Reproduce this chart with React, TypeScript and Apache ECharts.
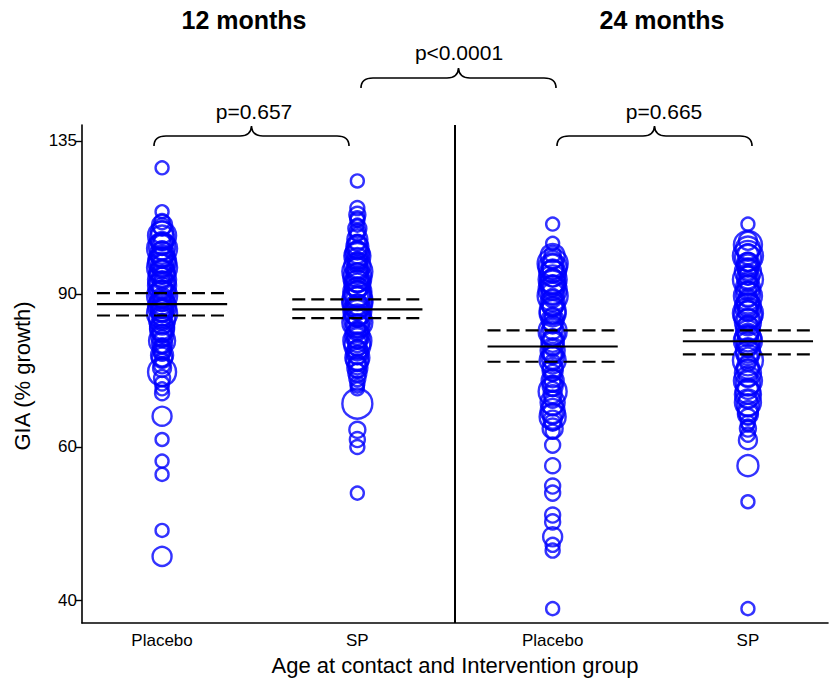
import React, { useEffect, useRef } from "react";
import * as echarts from "echarts";

// Group layout along the horizontal axis
const groupLabels = ["Placebo", "SP", "Placebo", "SP"];
const groupPositions = [1, 2, 3, 4];
const panelTitles = ["12 months", "24 months"];
const pLabels = ["p=0.657", "p<0.0001", "p=0.665"];

// Log-scaled GIA axis: ticks grow by a factor of 1.5
const yTickValues = [40, 60, 90, 135];
const yBase = 40;
const yRatio = 1.5;
const yAxisMin = 37.64;
const yAxisMax = 140.8;

// 12 months, Placebo
const placebo12Values = [125.7, 111.9, 109, 107.5, 106, 104.5, 103, 102, 101, 100, 99, 98, 97, 96, 95, 94, 93, 92.5, 92, 91, 90.5, 90, 89, 88.5, 88, 87, 86.5, 86, 85, 84, 83.5, 83, 82, 81, 80.5, 80, 79, 78.5, 78, 77, 76, 75.5, 74.5, 73.2, 72, 71, 70, 69.2, 65.1, 61.2, 57.8, 55.8, 48.1, 44.9,
  108, 105, 103.5, 101.5, 99.5, 97.5, 96.5, 95.5, 94.5, 93.5, 91.5, 89.5, 88.2, 87.5, 86.2, 85.5, 84.5, 82.5, 81.5, 79.5, 77.5, 76.5, 74, 102.5, 98.5];
const placebo12Sizes = [13, 13, 15, 17, 22, 24, 22, 26, 18, 24, 20, 28, 22, 18, 26, 20, 16, 24, 28, 18, 22, 26, 20, 16, 24, 28, 18, 22, 20, 26, 16, 20, 24, 18, 22, 16, 20, 14, 18, 16, 20, 14, 16, 28, 16, 14, 13, 14, 19, 13, 13, 13, 13, 19,
  20, 28, 16, 30, 22, 18, 30, 24, 16, 28, 20, 30, 18, 26, 22, 30, 18, 24, 20, 26, 18, 22, 18, 20, 26];

// 12 months, SP
const sp12Values = [121.4, 113, 111, 109.5, 108, 107, 105.5, 104, 103, 102, 101, 100, 99, 98, 97, 96, 95, 94, 93, 92, 91, 90.5, 90, 89, 88, 87.5, 87, 86, 85, 84.5, 84, 83, 82.5, 82, 81, 80, 79, 78.5, 78, 77, 76.5, 76, 75, 74, 73.5, 73, 72, 71, 70.5, 70, 67.3, 62.8, 61.2, 60.0, 53.1,
  110, 106, 102.5, 99.5, 97.5, 95.5, 93.5, 91.5, 89.5, 88.5, 86.5, 85.5, 83.5, 81.5, 80.5, 79.5, 77.5, 75.5, 74.5, 96.5, 92.5, 100.5];
const sp12Sizes = [13, 14, 16, 14, 13, 18, 14, 20, 16, 22, 18, 24, 20, 18, 26, 22, 20, 28, 22, 24, 18, 28, 26, 22, 30, 20, 24, 28, 22, 18, 26, 20, 24, 16, 22, 20, 18, 26, 16, 22, 18, 24, 16, 20, 14, 18, 16, 14, 13, 13, 30, 16, 15, 14, 13,
  14, 16, 20, 26, 18, 30, 24, 20, 28, 30, 22, 26, 30, 18, 24, 28, 20, 22, 18, 20, 26, 22];

// 24 months, Placebo
const placebo24Values = [108.3, 102.9, 100, 98.5, 97, 96, 95, 94, 93, 92, 91, 90, 89, 88, 87, 86, 85, 84, 83, 82, 81, 80, 79, 78, 77, 76.5, 76, 75, 74, 73, 72, 71, 70.5, 70, 69, 68, 67, 66, 65, 64.5, 64, 63, 62.5, 60.3, 57.1, 54.1, 53.1, 50.1, 49.2, 47.3, 46.3, 45.6, 39.1,
  99.5, 97.5, 95.5, 93.5, 91.5, 89.5, 87.5, 85.5, 83.5, 81.5, 79.5, 77.5, 75.5, 73.5, 71.5, 69.5, 67.5, 65.5, 92.5, 96.5];
const placebo24Sizes = [13, 13, 16, 18, 22, 20, 26, 18, 24, 20, 28, 22, 18, 24, 20, 26, 16, 22, 18, 20, 24, 18, 22, 16, 20, 18, 22, 16, 20, 16, 18, 16, 20, 14, 18, 16, 20, 24, 26, 18, 16, 20, 14, 15, 15, 15, 15, 15, 15, 19, 14, 14, 13,
  24, 30, 22, 28, 24, 30, 22, 26, 20, 28, 22, 24, 26, 20, 22, 28, 24, 20, 26, 28];

// 24 months, SP
const sp24Values = [108.3, 103.6, 101.5, 100, 99, 98, 97, 96, 95, 94, 93, 92, 91, 90, 89, 88, 87, 86, 85, 84, 83, 82, 81, 80, 79, 78, 77, 76, 75, 74, 73, 72, 71, 70, 69, 68, 67, 66, 65, 64, 63.5, 63, 62, 61.1, 57.1, 51.9, 39.1,
  102.5, 99.5, 97.5, 95.5, 93.5, 91.5, 89.5, 87.5, 85.5, 83.5, 81.5, 79.5, 77.5, 75.5, 73.5, 71.5, 69.5, 67.5, 65.5, 86.5, 80.5, 94.5];
const sp24Sizes = [13, 18, 24, 20, 26, 18, 22, 20, 16, 22, 18, 20, 16, 24, 18, 22, 26, 20, 28, 22, 18, 24, 20, 26, 22, 18, 24, 20, 16, 22, 26, 18, 24, 20, 26, 18, 22, 20, 16, 14, 12, 16, 14, 18, 21, 13, 13,
  28, 30, 22, 26, 30, 24, 28, 22, 30, 26, 22, 28, 24, 30, 22, 28, 24, 26, 20, 18, 20, 18];

// Geometric means with 95% confidence limits
const meanValues = [87.6, 86.4, 78.3, 79.4];
const ciLower = [85.0, 84.4, 75.2, 76.7];
const ciUpper = [90.2, 88.7, 81.7, 81.7];

const groupValues = [placebo12Values, sp12Values, placebo24Values, sp24Values];
const groupSizes = [placebo12Sizes, sp12Sizes, placebo24Sizes, sp24Sizes];

const FONT = '"Liberation Sans", Arial, sans-serif';
const BLUE = "#0000ff";

const toAxis = (v: number) => Math.log(v / yBase) / Math.log(yRatio);
const tickPositions = yTickValues.map(toAxis);

// Curly brace opening downward, 195 x 20
const braceD =
  "M0 20 Q0 10 12 10 L86 10 Q97 10 97.5 0 Q98 10 109 10 L183 10 Q195 10 195 20";
echarts.graphic.registerShape("brace", echarts.graphic.extendPath(braceD, {}) as any);

function buildOption() {
  const series: any[] = [];

  groupValues.forEach((vals, gi) => {
    series.push({
      type: "scatter",
      silent: true,
      symbol: "circle",
      data: vals.map((v, i) => [groupPositions[gi], toAxis(v), groupSizes[gi][i]]),
      symbolSize: (d: number[]) => d[2],
      itemStyle: { color: "rgba(0,0,0,0)", borderColor: BLUE, borderWidth: 2.4 },
      z: 2,
    });
  });

  const half = 1 / 3;
  groupPositions.forEach((p, gi) => {
    const lines = [
      { v: meanValues[gi], type: "solid" as any },
      { v: ciLower[gi], type: [13, 6] as any },
      { v: ciUpper[gi], type: [13, 6] as any },
    ];
    lines.forEach((l) => {
      series.push({
        type: "line",
        silent: true,
        symbol: "none",
        data: [
          [p - half, toAxis(l.v)],
          [p + half, toAxis(l.v)],
        ],
        lineStyle: { color: "#000", width: 2.2, type: l.type },
        z: 3,
      });
    });
  });

  // Divider between the two ages
  series.push({
    type: "line",
    silent: true,
    symbol: "none",
    data: [
      [2.5, toAxis(yAxisMin)],
      [2.5, toAxis(yAxisMax)],
    ],
    lineStyle: { color: "#000", width: 2 },
    z: 3,
  });

  const braceStyle = { stroke: "#000", fill: "none", lineWidth: 1.6 };
  const textStyle = (size: number, bold = false) => ({
    fontFamily: FONT,
    fontSize: size,
    fontWeight: bold ? "bold" : "normal",
    fill: "#000",
    align: "center",
    verticalAlign: "middle",
  });

  return {
    animation: false,
    backgroundColor: "#fff",
    textStyle: { fontFamily: FONT },
    grid: { left: 82, right: 6, top: 125, bottom: 57, containLabel: false },
    xAxis: {
      type: "value",
      min: 0.59,
      max: 4.41,
      axisLine: { show: true, onZero: false, lineStyle: { color: "#000", width: 1.6 } },
      axisTick: { show: false },
      splitLine: { show: false },
      axisLabel: {
        customValues: groupPositions,
        formatter: (v: number) => {
          const i = groupPositions.findIndex((p) => Math.abs(p - v) < 1e-6);
          return i >= 0 ? groupLabels[i] : "";
        },
        color: "#000",
        fontSize: 17,
        fontFamily: FONT,
        margin: 9,
      },
    },
    yAxis: {
      type: "value",
      min: toAxis(yAxisMin),
      max: toAxis(yAxisMax),
      axisLine: { show: true, onZero: false, lineStyle: { color: "#000", width: 1.6 } },
      axisTick: { show: true, length: 6, customValues: tickPositions, lineStyle: { color: "#000", width: 1.4 } },
      splitLine: { show: false },
      axisLabel: {
        customValues: tickPositions,
        formatter: (v: number) => {
          const i = tickPositions.findIndex((p) => Math.abs(p - v) < 1e-6);
          return i >= 0 ? String(yTickValues[i]) : "";
        },
        color: "#000",
        fontSize: 17,
        fontFamily: FONT,
        margin: 5,
      },
    },
    graphic: [
      { type: "text", x: 244, y: 20, style: { text: panelTitles[0], ...textStyle(25, true) } },
      { type: "text", x: 662, y: 20, style: { text: panelTitles[1], ...textStyle(25, true) } },
      { type: "text", x: 459, y: 52, style: { text: pLabels[1], ...textStyle(21) } },
      { type: "text", x: 254, y: 111, style: { text: pLabels[0], ...textStyle(21) } },
      { type: "text", x: 664, y: 111, style: { text: pLabels[2], ...textStyle(21) } },
      { type: "brace", x: 154, y: 126, style: braceStyle },
      { type: "brace", x: 361, y: 68, style: braceStyle },
      { type: "brace", x: 557, y: 126, style: braceStyle },
      {
        type: "text",
        x: 455,
        y: 665,
        style: { text: "Age at contact and Intervention group", ...textStyle(22) },
      },
      {
        type: "text",
        x: 22,
        y: 376,
        rotation: Math.PI / 2,
        style: { text: "GIA (% growth)", ...textStyle(22) },
      },
    ],
    series,
  };
}

export default function App() {
  const ref = useRef<HTMLDivElement>(null);
  useEffect(() => {
    if (!ref.current) return;
    const chart = echarts.init(ref.current, null, { renderer: "svg" });
    chart.setOption(buildOption() as any);
    return () => chart.dispose();
  }, []);
  return (
    <div
      ref={ref}
      style={{ position: "fixed", left: 0, top: 0, width: 834, height: 680, background: "#fff" }}
    />
  );
}
